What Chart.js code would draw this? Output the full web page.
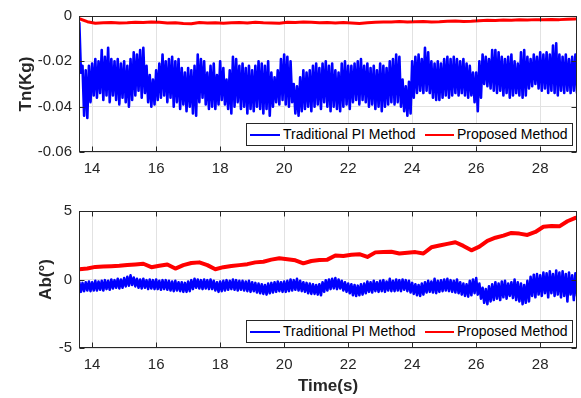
<!DOCTYPE html>
<html><head><meta charset="utf-8">
<script src="https://cdn.jsdelivr.net/npm/chart.js@4.4.1/dist/chart.umd.min.js"></script>
<style>
html,body{margin:0;padding:0;background:#fff;width:581px;height:398px;overflow:hidden;font-family:"Liberation Sans",Arial,sans-serif}
canvas{position:absolute;left:0}
#c1{top:0}
#c2{top:195px}
.legend{position:absolute;left:246px;width:327px;height:23px;border:1px solid #262626;background:#fff;box-sizing:border-box;font-size:14px;color:#000;white-space:nowrap}
.legend span.s{position:absolute;top:10px;height:2px}
.legend span.t{position:absolute;top:2px;line-height:16px}
</style>
</head><body>
<canvas id="c1" width="581" height="195"></canvas>
<canvas id="c2" width="581" height="203"></canvas>
<div class="legend" id="lg1" style="top:123px"></div>
<div class="legend" id="lg2" style="top:320px"></div>
<script>
// ---- data ----
const seriesNames = ['Traditional PI Method', 'Proposed Method'];
const seriesColors = ['#0000ff', '#ff0000'];
const timeTicks = [14, 16, 18, 20, 22, 24, 26, 28];
const tnTicks = [-0.06, -0.04, -0.02, 0];
const abTicks = [-5, 0, 5];
// noisy signals: samples every 0.05 s starting at 13.6 s (alternating peak/trough as read)
const noisyStart = 13.6, noisyStep = 0.05;
const tnTraditional = [
-0.003,-0.025, -0.022,-0.044, -0.024,-0.045, -0.022,-0.038, -0.021,-0.035,
-0.019,-0.036, -0.020,-0.034, -0.015,-0.037, -0.018,-0.035, -0.014,-0.038,
-0.019,-0.035, -0.020,-0.037, -0.019,-0.039, -0.021,-0.036, -0.020,-0.038,
-0.022,-0.040, -0.019,-0.037, -0.016,-0.035, -0.017,-0.033, -0.015,-0.036,
-0.014,-0.034, -0.022,-0.038, -0.026,-0.040, -0.028,-0.039, -0.024,-0.037,
-0.021,-0.036, -0.017,-0.035, -0.020,-0.038, -0.019,-0.036, -0.018,-0.040,
-0.020,-0.038, -0.019,-0.041, -0.023,-0.039, -0.025,-0.042, -0.023,-0.040,
-0.024,-0.043, -0.022,-0.044, -0.017,-0.038, -0.019,-0.036, -0.020,-0.039,
-0.025,-0.041, -0.022,-0.040, -0.021,-0.041, -0.026,-0.039, -0.020,-0.037,
-0.023,-0.039, -0.028,-0.041, -0.024,-0.043, -0.018,-0.040, -0.019,-0.038,
-0.022,-0.041, -0.021,-0.040, -0.023,-0.043, -0.022,-0.041, -0.024,-0.042,
-0.022,-0.040, -0.020,-0.041, -0.021,-0.043, -0.022,-0.041, -0.020,-0.044,
-0.025,-0.040, -0.027,-0.038, -0.024,-0.039, -0.019,-0.037, -0.017,-0.039,
-0.018,-0.040, -0.020,-0.038, -0.030,-0.043, -0.031,-0.044, -0.027,-0.042,
-0.024,-0.041, -0.025,-0.040, -0.024,-0.042, -0.022,-0.040, -0.021,-0.039,
-0.023,-0.041, -0.021,-0.038, -0.020,-0.040, -0.022,-0.042, -0.021,-0.040,
-0.024,-0.041, -0.025,-0.042, -0.021,-0.040, -0.020,-0.039, -0.022,-0.041,
-0.022,-0.038, -0.021,-0.037, -0.020,-0.039, -0.019,-0.037, -0.022,-0.038,
-0.021,-0.040, -0.023,-0.039, -0.022,-0.041, -0.024,-0.040, -0.021,-0.042,
-0.022,-0.040, -0.023,-0.039, -0.020,-0.038, -0.019,-0.039, -0.017,-0.038,
-0.018,-0.040, -0.028,-0.042, -0.031,-0.044, -0.029,-0.043, -0.020,-0.036,
-0.018,-0.034, -0.017,-0.033, -0.019,-0.034, -0.014,-0.033, -0.016,-0.034,
-0.020,-0.036, -0.021,-0.037, -0.020,-0.037, -0.021,-0.036, -0.019,-0.035,
-0.018,-0.036, -0.019,-0.035, -0.018,-0.034, -0.019,-0.035, -0.020,-0.034,
-0.019,-0.035, -0.021,-0.036, -0.022,-0.035, -0.025,-0.038, -0.025,-0.042,
-0.020,-0.036, -0.017,-0.030, -0.018,-0.031, -0.019,-0.032, -0.015,-0.033,
-0.015,-0.034, -0.016,-0.033, -0.018,-0.035, -0.019,-0.034, -0.018,-0.036,
-0.017,-0.035, -0.020,-0.034, -0.021,-0.035, -0.016,-0.036, -0.015,-0.035,
-0.018,-0.032, -0.019,-0.031, -0.017,-0.030, -0.018,-0.032, -0.016,-0.033,
-0.017,-0.032, -0.016,-0.034, -0.017,-0.033, -0.013,-0.034, -0.012,-0.035,
-0.017,-0.033, -0.018,-0.034, -0.017,-0.033, -0.019,-0.034, -0.018,-0.033,
-0.017,-0.034
];
const abTraditional = [
-0.2,-0.9, -0.25,-0.85, -0.2,-0.8, -0.15,-0.85, -0.2,-0.8,
-0.1,-0.8, -0.15,-0.75, -0.1,-0.8, -0.05,-0.7, -0.1,-0.75,
0,-0.65, -0.05,-0.6, 0.05,-0.65, 0,-0.6, 0.1,-0.5,
0.2,-0.45, 0.3,-0.4, 0.15,-0.5, 0.05,-0.6, 0,-0.65,
0.05,-0.6, -0.05,-0.7, 0,-0.65, -0.05,-0.7, 0,-0.7,
-0.1,-0.75, -0.05,-0.7, -0.05,-0.75, -0.1,-0.8, -0.15,-0.85,
-0.1,-0.8, -0.2,-0.85, -0.2,-0.9, -0.25,-0.9, -0.15,-0.85,
-0.05,-0.7, 0.05,-0.6, 0,-0.65, -0.05,-0.7, 0,-0.65,
-0.05,-0.7, 0,-0.7, -0.1,-0.8, -0.2,-0.9, -0.15,-0.85,
-0.1,-0.8, -0.05,-0.75, -0.1,-0.7, 0,-0.75, -0.05,-0.8,
-0.1,-0.75, -0.1,-0.8, -0.15,-0.85, -0.1,-0.9, -0.2,-0.85,
-0.25,-0.95, -0.3,-1.0, -0.35,-1.05, -0.4,-1.1, -0.3,-1.0,
-0.25,-0.95, -0.2,-0.9, -0.15,-0.85, -0.2,-0.9, -0.15,-0.9,
-0.1,-0.85, 0,-0.8, -0.05,-0.75, 0.05,-0.8, -0.1,-0.85,
-0.2,-0.9, -0.25,-1.0, -0.3,-1.05, -0.35,-1.05, -0.4,-1.1,
-0.35,-1.15, -0.2,-0.9, -0.05,-0.8, 0,-0.7, 0.05,-0.65,
0.1,-0.7, 0,-0.65, -0.1,-0.8, -0.2,-0.9, -0.3,-1.0,
-0.35,-1.15, -0.4,-1.2, -0.45,-1.15, -0.35,-1.1, -0.3,-1.0,
-0.15,-0.9, -0.2,-0.95, -0.1,-0.85, -0.2,-0.9, -0.1,-0.85,
-0.05,-0.9, -0.15,-0.8, 0.05,-0.85, -0.1,-0.85, 0,-0.8,
-0.05,-0.85, 0,-0.75, -0.05,-0.85, -0.1,-0.95, -0.25,-1.05,
-0.35,-1.15, -0.4,-1.2, -0.3,-1.1, -0.2,-0.95, -0.1,-0.9,
-0.15,-0.95, 0.05,-1.0, -0.1,-0.9, -0.05,-0.85, 0,-0.8,
0.05,-0.85, -0.05,-0.9, -0.1,-0.95, 0,-1.0, -0.2,-1.1,
-0.3,-1.2, -0.35,-1.25, -0.1,-1.15, 0,-1.0, 0.1,-1.1,
-0.3,-1.4, -0.6,-1.7, -0.7,-1.8, -0.5,-1.6, -0.35,-1.5,
-0.2,-1.4, -0.3,-1.5, -0.15,-1.3, -0.1,-1.4, -0.3,-1.2,
-0.2,-1.35, 0,-1.5, -0.2,-1.6, -0.3,-1.8, -0.4,-1.7,
-0.1,-1.6, 0.2,-1.2, 0.35,-1.3, 0.4,-1.1, 0.3,-1.2,
0.5,-1.0, 0.45,-1.3, 0.6,-1.0, 0.4,-1.2, 0.65,-1.1,
0.5,-1.3, 0.6,-1.2, 0.4,-1.6, 0.5,-1.1, 0.3,-1.5,
0.45,-1.2
];
// smooth signals: samples every 0.25 s starting at 13.6 s
const smoothStart = 13.6, smoothStep = 0.25;
const tnProposed = [
-0.0012,-0.0025,-0.0032,-0.0030,-0.0029,-0.0031,-0.0030,-0.0028,-0.0029,-0.0027,
-0.0028,-0.0031,-0.0030,-0.0033,-0.0034,-0.0029,-0.0031,-0.0030,-0.0032,-0.0030,
-0.0029,-0.0031,-0.0028,-0.0030,-0.0031,-0.0032,-0.0028,-0.0029,-0.0027,-0.0028,
-0.0030,-0.0029,-0.0031,-0.0029,-0.0031,-0.0033,-0.0030,-0.0028,-0.0027,-0.0026,
-0.0024,-0.0026,-0.0025,-0.0024,-0.0026,-0.0025,-0.0023,-0.0022,-0.0024,-0.0023,
-0.0021,-0.0019,-0.0020,-0.0018,-0.0019,-0.0017,-0.0018,-0.0016,-0.0017,-0.0015,
-0.0016,-0.0014,-0.0013
];
const abProposed = [
0.75,0.8,0.92,0.95,0.97,1.0,1.06,1.1,1.15,0.9,
1.0,1.1,0.8,1.05,1.2,1.25,1.05,0.75,0.9,0.98,
1.05,1.12,1.25,1.3,1.45,1.55,1.48,1.4,1.18,1.35,
1.42,1.45,1.75,1.72,1.8,1.85,1.65,1.98,2.0,2.02,
1.9,1.95,2.0,1.9,2.35,2.48,2.6,2.72,2.45,2.13,
2.4,2.82,3.05,3.2,3.4,3.35,3.25,3.47,3.85,3.9,
3.88,4.25,4.5
];

// ---- helpers ----
function toXY(values, start, step) {
  return values.map((v, i) => ({x: start + i * step, y: v}));
}
const TICK_COLOR = '#262626';
const GRID_COLOR = '#e2e2e2';

const framePlugin = {
  id: 'frame',
  afterDraw(chart) {
    const {ctx, chartArea: a, scales} = chart;
    const L = Math.round(a.left) + 0.5, R = Math.round(a.right) - 0.5;
    const T = Math.round(a.top) + 0.5, B = Math.round(a.bottom) - 0.5;
    ctx.save();
    ctx.strokeStyle = TICK_COLOR;
    ctx.lineWidth = 1;
    ctx.strokeRect(L, T, R - L, B - T);
    ctx.beginPath();
    scales.x.ticks.forEach(t => {
      const px = Math.round(scales.x.getPixelForValue(t.value)) + 0.5;
      ctx.moveTo(px, B); ctx.lineTo(px, B - 5);
      ctx.moveTo(px, T); ctx.lineTo(px, T + 5);
    });
    scales.y.ticks.forEach(t => {
      const py = Math.round(scales.y.getPixelForValue(t.value)) + 0.5;
      ctx.moveTo(L, py); ctx.lineTo(L + 5, py);
      ctx.moveTo(R, py); ctx.lineTo(R - 5, py);
    });
    ctx.stroke();
    ctx.restore();
  }
};

function makeChart(id, cfg) {
  const xScale = {
    type: 'linear', min: 13.59, max: 29.15,
    afterBuildTicks: s => { s.ticks = timeTicks.map(v => ({value: v})); },
    afterFit: s => { s.height = cfg.xHeight; },
    grid: {color: GRID_COLOR, drawTicks: false},
    border: {display: false},
    ticks: {color: TICK_COLOR, font: {family: 'Liberation Sans', size: 15}, padding: 8, maxRotation: 0},
    title: cfg.xTitle ? {display: true, text: cfg.xTitle, color: TICK_COLOR,
      font: {family: 'Liberation Sans', size: 17, weight: 'bold'}, padding: {top: 0, bottom: 1}} : {display: false}
  };
  const yScale = {
    type: 'linear', min: cfg.yTicks[0], max: cfg.yTicks[cfg.yTicks.length - 1],
    afterBuildTicks: s => { s.ticks = cfg.yTicks.map(v => ({value: v})); },
    afterFit: s => { s.width = 79; },
    grid: {color: GRID_COLOR, drawTicks: false},
    border: {display: false},
    ticks: {color: TICK_COLOR, font: {family: 'Liberation Sans', size: 15}, padding: 7,
      callback: v => String(Number(v.toFixed(2)))},
    title: {display: true, text: cfg.yTitle, color: TICK_COLOR,
      font: {family: 'Liberation Sans', size: 17, weight: 'bold'}, padding: {top: cfg.yTitlePad, bottom: 0}}
  };
  return new Chart(document.getElementById(id), {
    type: 'line',
    data: {datasets: [
      {label: seriesNames[0], data: cfg.trad, borderColor: seriesColors[0], borderWidth: 2.6,
       borderJoinStyle: 'round', borderCapStyle: 'round',
       pointRadius: 0, tension: 0, order: 2, parsing: false},
      {label: seriesNames[1], data: cfg.prop, borderColor: seriesColors[1], borderWidth: cfg.propWidth,
       borderJoinStyle: 'round', borderCapStyle: 'round',
       pointRadius: 0, tension: 0, order: 1, parsing: false}
    ]},
    options: {
      responsive: false, animation: false, devicePixelRatio: 1,
      layout: {padding: {left: 0, right: 4, top: cfg.padTop, bottom: 0}},
      plugins: {legend: {display: false}, tooltip: {enabled: false}},
      scales: {x: xScale, y: yScale}
    },
    plugins: [framePlugin]
  });
}

makeChart('c1', {
  trad: toXY(tnTraditional, noisyStart, noisyStep),
  prop: toXY(tnProposed, smoothStart, smoothStep),
  yTicks: tnTicks, yTitle: 'Tn(Kg)', yTitlePad: 16, padTop: 15, xHeight: 43, propWidth: 3
});
makeChart('c2', {
  trad: toXY(abTraditional, noisyStart, noisyStep),
  prop: toXY(abProposed, smoothStart, smoothStep),
  yTicks: abTicks, yTitle: 'Ab(°)', yTitlePad: 36, padTop: 16, xHeight: 50, propWidth: 4,
  xTitle: 'Time(s)'
});

// HTML legends (real text) built from series names/colours
['lg1', 'lg2'].forEach(id => {
  const el = document.getElementById(id);
  const pos = [{s: 3, w: 30, t: 36}, {s: 178, w: 29, t: 210}];
  seriesNames.forEach((name, i) => {
    const s = document.createElement('span');
    s.className = 's';
    s.style.left = pos[i].s + 'px'; s.style.width = pos[i].w + 'px';
    s.style.background = seriesColors[i];
    const t = document.createElement('span');
    t.className = 't';
    t.style.left = pos[i].t + 'px';
    t.textContent = name;
    el.appendChild(s); el.appendChild(t);
  });
});
</script>
</body></html>
